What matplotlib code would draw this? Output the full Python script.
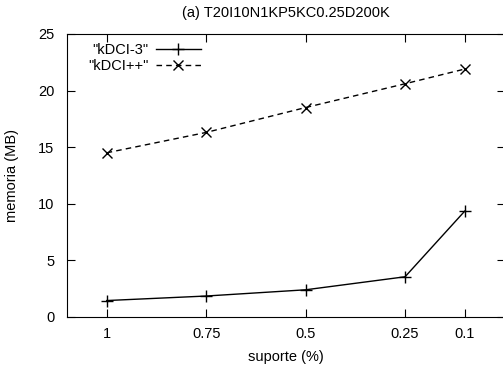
import matplotlib
matplotlib.use("Agg")
import matplotlib.pyplot as plt

plt.rcParams["font.family"] = "Liberation Sans"

suporte = [1, 0.75, 0.5, 0.25, 0.1]
kdci3 = [1.45, 1.85, 2.4, 3.55, 9.35]
kdcipp = [14.5, 16.3, 18.5, 20.6, 21.9]

fig = plt.figure(figsize=(5.03, 3.69), dpi=100)
ax = fig.add_axes([0.133, 0.141, 0.87, 0.767])

ax.plot(suporte, kdci3, color="black", lw=1, marker="+", ms=9, mew=1, label='"kDCI-3"')
ax.plot(suporte, kdcipp, color="black", lw=1, ls=(0, (4, 3)), marker="x", ms=7, mew=1, label='"kDCI++"')

ax.set_xlim(1.1, 0)
ax.set_ylim(0, 25)
ax.set_xticks(suporte)
ax.set_xticklabels(["1", "0.75", "0.5", "0.25", "0.1"])
ax.set_yticks([0, 5, 10, 15, 20, 25])
ax.tick_params(direction="in", top=True, right=True, length=6, labelsize=10.5)
ax.tick_params(axis="x", pad=7)
ax.tick_params(axis="y", pad=9)

ax.set_xlabel("suporte (%)", fontsize=10.5, labelpad=7)
ax.set_ylabel("memoria (MB)", fontsize=10.5, labelpad=14)
ax.set_title("(a) T20I10N1KP5KC0.25D200K", fontsize=10.5, pad=12)

ax.legend(loc="upper left", bbox_to_anchor=(0.035, 0.99), markerfirst=False, frameon=False,
          fontsize=10.5, handlelength=3.1, handletextpad=0.5, borderaxespad=0,
          labelspacing=0.15)

fig.savefig("out.png", dpi=100)
